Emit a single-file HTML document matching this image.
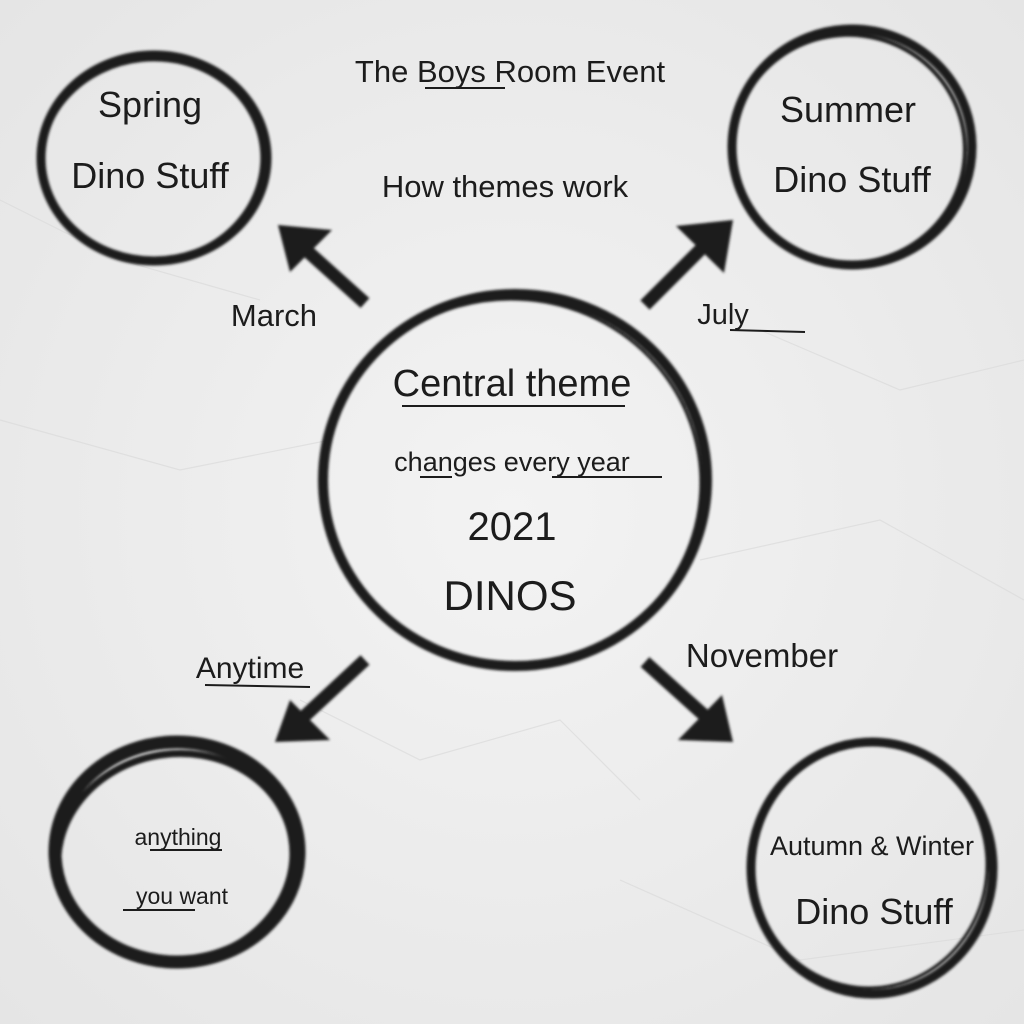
<!DOCTYPE html>
<html><head><meta charset="utf-8"><style>
html,body{margin:0;padding:0;width:1024px;height:1024px;overflow:hidden;background:#ededed}
svg{display:block}
text{font-family:"Liberation Sans",sans-serif;fill:#1c1c1c;text-anchor:middle}
</style></head><body>
<svg width="1024" height="1024" viewBox="0 0 1024 1024">
<defs>
<radialGradient id="bg" cx="50%" cy="50%" r="75%">
<stop offset="0" stop-color="#f3f3f3"/><stop offset="1" stop-color="#e4e4e4"/>
</radialGradient>
<filter id="blur"><feGaussianBlur stdDeviation="1.2"/></filter>
</defs>
<rect width="1024" height="1024" fill="url(#bg)"/>
<g stroke="#dadada" stroke-width="1.2" fill="none" opacity="0.7">
<path d="M0 420 L180 470 L330 440"/><path d="M700 560 L880 520 L1024 600"/>
<path d="M0 200 L120 260 L260 300"/><path d="M620 880 L800 960 L1024 930"/>
<path d="M300 700 L420 760 L560 720 L640 800"/><path d="M760 330 L900 390 L1024 360"/>
</g>
<g fill="none" stroke="#1a1a1a" filter="url(#blur)" stroke-linecap="round">
<ellipse cx="154" cy="158" rx="113" ry="103" stroke-width="9"/>
<ellipse cx="152" cy="160" rx="110" ry="100" stroke-width="3" transform="rotate(-6 152 160)"/>
<ellipse cx="852" cy="147" rx="120" ry="118" stroke-width="9"/>
<ellipse cx="849" cy="149" rx="116" ry="114" stroke-width="4" transform="rotate(8 850 149)"/>
<ellipse cx="515" cy="480" rx="192" ry="186" stroke-width="10"/>
<ellipse cx="512" cy="482" rx="189" ry="183" stroke-width="3" transform="rotate(5 512 482)"/>
<ellipse cx="177" cy="852" rx="122" ry="110" stroke-width="13"/>
<ellipse cx="175" cy="858" rx="118" ry="104" stroke-width="7" transform="rotate(-10 175 856)"/>
<ellipse cx="872" cy="868" rx="121" ry="126" stroke-width="9"/>
<ellipse cx="870" cy="866" rx="117" ry="122" stroke-width="3" transform="rotate(6 870 866)"/>
</g>
<g stroke="#1a1a1a" stroke-width="13" fill="#1a1a1a" filter="url(#blur)">
<line x1="365" y1="303" x2="295" y2="240"/>
<polygon stroke="none" points="278,225 332,230 290,272"/>
<line x1="645" y1="305" x2="715" y2="235"/>
<polygon stroke="none" points="733,220 676,226 724,273"/>
<line x1="365" y1="660" x2="295" y2="725"/>
<polygon stroke="none" points="275,742 330,740 290,700"/>
<line x1="645" y1="662" x2="715" y2="725"/>
<polygon stroke="none" points="733,742 678,740 722,695"/>
</g>
<g stroke="#1c1c1c" stroke-width="2" fill="none">
<line x1="425" y1="88" x2="505" y2="88"/>
<line x1="402" y1="406" x2="625" y2="406"/><line x1="552" y1="477" x2="662" y2="477"/>
<line x1="420" y1="477" x2="452" y2="477"/>
<line x1="730" y1="330" x2="805" y2="332"/>
<line x1="205" y1="685" x2="310" y2="687"/>
<line x1="150" y1="850" x2="222" y2="850"/><line x1="123" y1="910" x2="195" y2="910"/>
</g>
<text x="510" y="82" font-size="31">The Boys Room Event</text>
<text x="505" y="197" font-size="31">How themes work</text>
<text x="150" y="117" font-size="36">Spring</text>
<text x="150" y="188" font-size="36">Dino Stuff</text>
<text x="848" y="122" font-size="36">Summer</text>
<text x="852" y="192" font-size="36">Dino Stuff</text>
<text x="274" y="326" font-size="31">March</text>
<text x="723" y="324" font-size="29">July</text>
<text x="512" y="396" font-size="38">Central theme</text>
<text x="512" y="471" font-size="27">changes every year</text>
<text x="512" y="540" font-size="40">2021</text>
<text x="510" y="610" font-size="42">DINOS</text>
<text x="250" y="678" font-size="30">Anytime</text>
<text x="762" y="667" font-size="33">November</text>
<text x="178" y="845" font-size="23">anything</text>
<text x="182" y="904" font-size="23">you want</text>
<text x="872" y="855" font-size="27">Autumn &amp; Winter</text>
<text x="874" y="924" font-size="36">Dino Stuff</text>
</svg>
</body></html>
